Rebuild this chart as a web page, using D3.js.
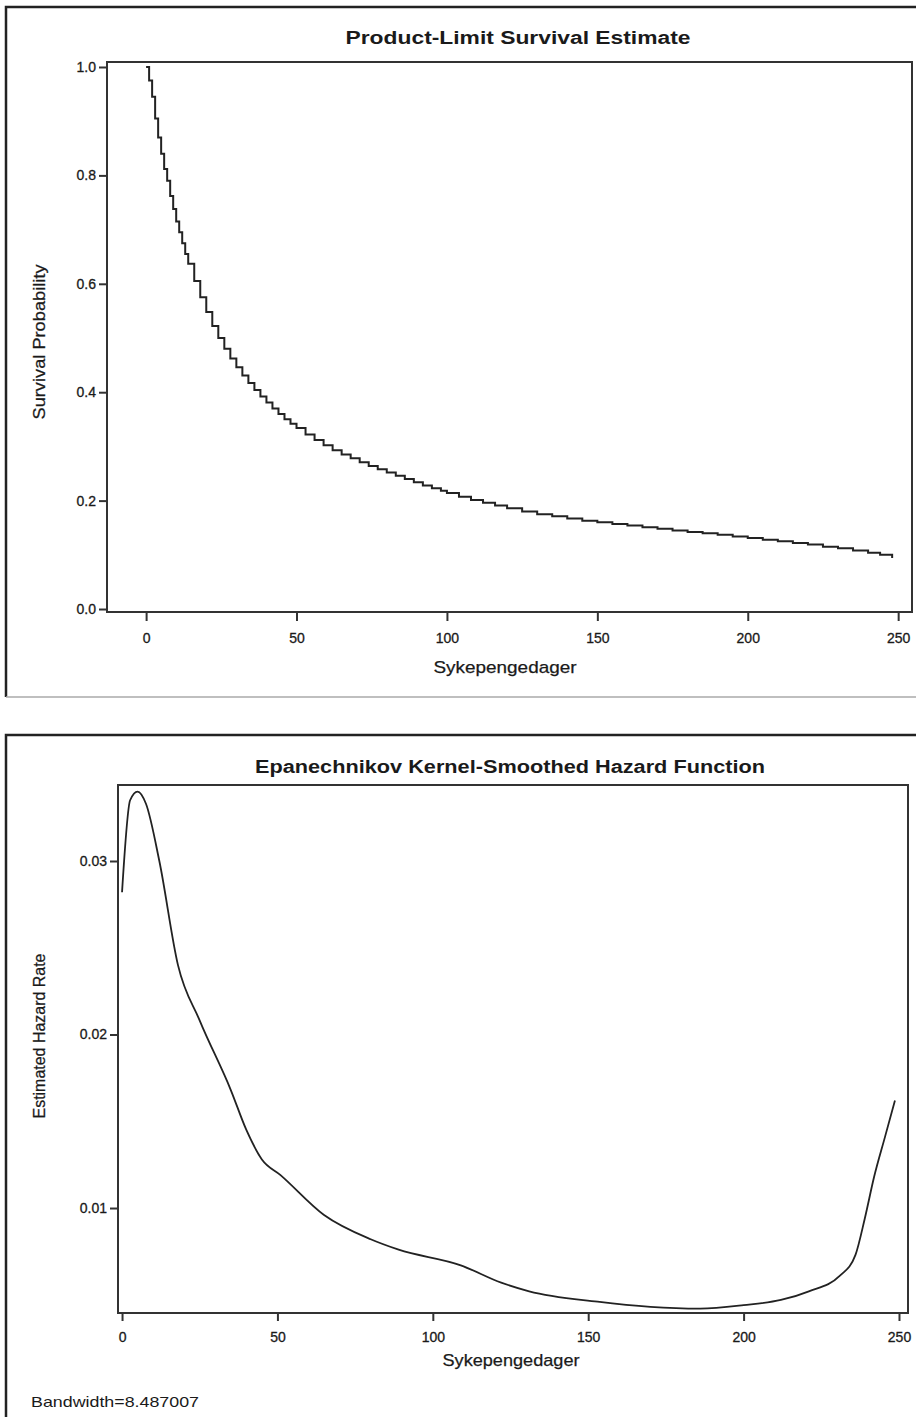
<!DOCTYPE html>
<html lang="en">
  <head>
    <meta charset="UTF-8" />
    <title>Product-Limit Survival Estimate</title>
    <style>
      body { margin: 0; background: #fff; }
      text { font-family: "Liberation Sans", Arial, sans-serif; fill: #1a1a1a; }
    </style>
  </head>
  <body>
    <script src="https://d3js.org/d3.v7.min.js"></script>
    <script>
      // survival estimate (Kaplan-Meier)
      const survDays = [0, 1, 2, 3, 4, 5, 6, 7, 8, 9, 10, 11, 12, 13, 14, 16, 18, 20, 22, 24, 26, 28, 30, 32, 34, 36, 38, 40, 42, 44, 46, 48, 50, 53, 56, 59, 62, 65, 68, 71, 74, 77, 80, 83, 86, 89, 92, 95, 98, 100, 104, 108, 112, 116, 120, 125, 130, 135, 140, 145, 150, 155, 160, 165, 170, 175, 180, 185, 190, 195, 200, 205, 210, 215, 220, 225, 230, 235, 240, 244, 248]
      const survProb = [1.0, 0.975, 0.945, 0.905, 0.87, 0.84, 0.812, 0.79, 0.762, 0.738, 0.715, 0.695, 0.675, 0.655, 0.637, 0.605, 0.575, 0.548, 0.522, 0.5, 0.48, 0.462, 0.446, 0.431, 0.417, 0.404, 0.392, 0.381, 0.37, 0.36, 0.35, 0.342, 0.334, 0.322, 0.312, 0.302, 0.293, 0.285, 0.278, 0.271, 0.264, 0.258, 0.252, 0.246, 0.24, 0.234, 0.228, 0.223, 0.218, 0.214, 0.207, 0.201, 0.196, 0.191, 0.186, 0.18, 0.175, 0.171, 0.167, 0.163, 0.16, 0.157, 0.154, 0.151, 0.148, 0.145, 0.142, 0.14, 0.137, 0.134, 0.131, 0.128, 0.125, 0.122, 0.119, 0.115, 0.112, 0.108, 0.104, 0.1, 0.094]

      // kernel-smoothed hazard
      const hazDays = [0, 2.6, 5, 7.7, 12, 18, 25, 35, 40, 45, 51, 65, 80, 89, 109, 122, 131, 153, 170, 186, 200, 212, 221, 231, 236, 239, 242, 245.5, 248.7]
      const hazRate = [0.0282, 0.0335, 0.034, 0.0333, 0.03, 0.024, 0.0208, 0.0168, 0.0145, 0.0128, 0.0119, 0.0096, 0.0082, 0.0076, 0.0067, 0.0057, 0.0052, 0.0046, 0.0043, 0.0042, 0.0044, 0.0047, 0.0052, 0.0061, 0.0073, 0.0094, 0.0118, 0.0141, 0.0162]

      const xTicks = [0, 50, 100, 150, 200, 250]
      const survTicks = [0, 0.2, 0.4, 0.6, 0.8, 1.0]
      const hazTicks = [0.01, 0.02, 0.03]

      const width = 916
      const height = 1417
      const svg = d3.select("body").append("svg")
        .attr("width", width)
        .attr("height", height)

      // panel frames
      svg.append("path")
        .attr("d", "M6,697V7H916")
        .attr("fill", "none").attr("stroke", "#222").attr("stroke-width", 2.5)
      svg.append("line")
        .attr("x1", 6).attr("x2", 916).attr("y1", 697).attr("y2", 697)
        .attr("stroke", "#aaa").attr("stroke-width", 1.5)
      svg.append("path")
        .attr("d", "M6,1417V735H916")
        .attr("fill", "none").attr("stroke", "#222").attr("stroke-width", 2.5)

      function label(g, x, y, txt, size, len, rot, weight) {
        const t = g.append("text")
          .attr("text-anchor", "middle")
          .attr("textLength", len)
          .attr("lengthAdjust", "spacingAndGlyphs")
          .style("font-size", size + "px")
          .text(txt)
        if (rot) t.attr("transform", `translate(${x},${y}) rotate(-90)`)
        else t.attr("x", x).attr("y", y)
        if (weight === "bold") t.style("font-weight", "bold")
        else if (weight) t.attr("stroke", "#1a1a1a").attr("stroke-width", weight)
        return t
      }

      function panel(opt) {
        const g = svg.append("g")
        const x = d3.scaleLinear().domain(opt.xDomain).range([opt.left, opt.right])
        const y = d3.scaleLinear().domain(opt.yDomain).range([opt.bottom, opt.top])

        g.append("rect")
          .attr("x", opt.left).attr("y", opt.top)
          .attr("width", opt.right - opt.left).attr("height", opt.bottom - opt.top)
          .attr("fill", "none").attr("stroke", "#333").attr("stroke-width", 2)

        const xAxis = g.append("g")
          .attr("transform", `translate(0,${opt.bottom})`)
          .call(d3.axisBottom(x).tickValues(xTicks).tickSize(opt.xTick[0]).tickPadding(opt.xTick[1]))
        const yAxis = g.append("g")
          .attr("transform", `translate(${opt.left},0)`)
          .call(d3.axisLeft(y).tickValues(opt.yTicks).tickSize(8).tickPadding(3).tickFormat(opt.fmt))
        for (const a of [xAxis, yAxis]) {
          a.select(".domain").remove()
          a.selectAll("line").attr("stroke", "#333").attr("stroke-width", 2)
          a.selectAll("text")
            .attr("fill", "#1a1a1a")
            .attr("stroke", "#1a1a1a").attr("stroke-width", 0.3)
            .style("font-family", '"Liberation Sans", Arial, sans-serif')
            .style("font-size", "14px")
        }

        label(g, opt.titleX, opt.titleY, opt.title, 18, opt.titleLen, false, "bold")
        label(g, opt.xLabX, opt.xLabY, "Sykepengedager", 17, opt.xLabLen, false, 0.25)
        label(g, 45, opt.yLabY, opt.yLabel, 17, opt.yLabLen, true, 0.25)

        g.append("path")
          .datum(opt.days.map((d, i) => [d, opt.vals[i]]))
          .attr("fill", "none")
          .attr("stroke", "#222")
          .attr("stroke-width", opt.lineWidth)
          .attr("d", d3.line().x(d => x(d[0])).y(d => y(d[1])).curve(opt.curve))
      }

      panel({
        left: 107, right: 912, top: 62, bottom: 612,
        xDomain: [-13, 254.6], yDomain: [-0.0055, 1.0092],
        xTick: [9, 12],
        yTicks: survTicks, fmt: d3.format(".1f"),
        title: "Product-Limit Survival Estimate", titleX: 518, titleY: 44, titleLen: 345,
        xLabX: 505, xLabY: 673, xLabLen: 143,
        yLabel: "Survival Probability", yLabY: 342, yLabLen: 155,
        days: survDays, vals: survProb,
        curve: d3.curveStepAfter, lineWidth: 2
      })

      panel({
        left: 118, right: 908, top: 785, bottom: 1313,
        xDomain: [-1.3, 252.9], yDomain: [0.00395, 0.03438],
        xTick: [8, 11],
        yTicks: hazTicks, fmt: d3.format(".2f"),
        title: "Epanechnikov Kernel-Smoothed Hazard Function", titleX: 510, titleY: 773, titleLen: 510,
        xLabX: 511, xLabY: 1366, xLabLen: 137,
        yLabel: "Estimated Hazard Rate", yLabY: 1036, yLabLen: 165,
        days: hazDays, vals: hazRate,
        curve: d3.curveMonotoneX, lineWidth: 1.8
      })

      label(svg, 115, 1407, "Bandwidth=8.487007", 15, 168, false, 0)
    </script>
  </body>
</html>
